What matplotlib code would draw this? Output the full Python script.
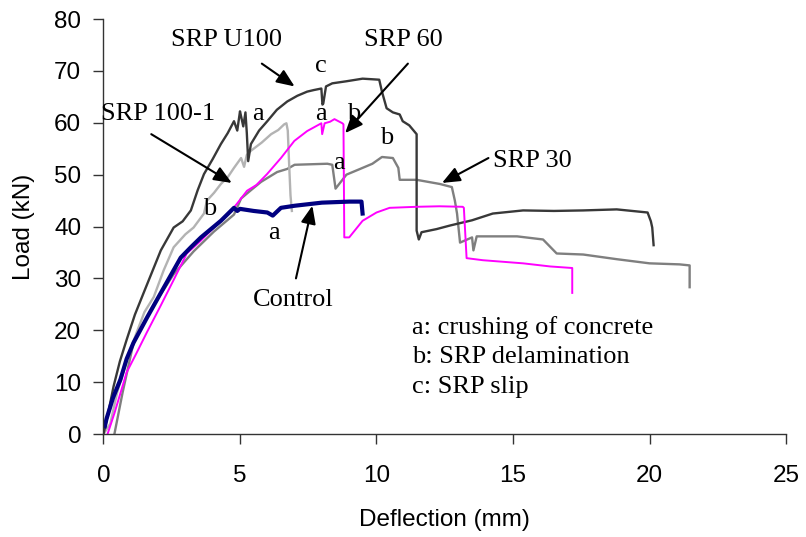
import matplotlib
matplotlib.use("Agg")
import matplotlib.pyplot as plt

# load-deflection curves (deflection mm, load kN)
u100_x = [0.0, 0.15, 0.37, 0.6, 0.85, 1.15, 1.47, 1.8, 2.1, 2.57, 2.9, 3.2, 3.45, 3.68,
          4.0, 4.3, 4.55, 4.78, 4.9, 5.0, 5.05, 5.12, 5.2, 5.25, 5.3, 5.4, 5.7, 6.0, 6.35,
          6.73, 7.1, 7.46, 7.7, 7.98, 8.02, 8.05, 8.15, 8.38, 8.9, 9.49, 9.8, 10.1, 10.2,
          10.37, 10.6, 10.85, 10.96, 11.2, 11.47, 11.47, 11.55, 11.65, 12.2, 12.7, 13.5,
          14.26, 15.37, 16.5, 17.57, 18.8, 19.93, 20.05, 20.1, 20.15]
u100_y = [0.0, 3.5, 9.2, 14.0, 18.2, 23.0, 27.2, 31.5, 35.4, 39.8, 41.0, 43.1, 47.0, 50.1,
          53.0, 55.9, 58.0, 60.3, 58.5, 62.2, 61.0, 59.3, 62.0, 58.0, 52.6, 55.9, 58.5, 60.3,
          62.5, 64.1, 65.2, 66.0, 66.3, 66.6, 63.5, 63.7, 67.0, 67.6, 68.0, 68.5, 68.4, 68.3,
          66.0, 62.8, 62.0, 61.6, 60.3, 59.5, 57.8, 39.2, 37.5, 38.9, 39.5, 40.2, 41.2, 42.5,
          43.1, 43.0, 43.1, 43.3, 42.7, 41.0, 39.8, 36.4]

r100_x = [0.0, 0.25, 0.5, 0.9, 1.21, 1.5, 1.84, 2.2, 2.57, 3.0, 3.3, 3.68, 3.79, 4.05,
          4.3, 4.55, 4.78, 5.04, 5.15, 5.25, 5.4, 5.8, 6.14, 6.4, 6.62, 6.7, 6.75, 6.8, 6.85, 6.9]
r100_y = [0.0, 2.0, 8.0, 15.0, 19.5, 23.5, 26.4, 31.5, 36.0, 38.5, 39.8, 42.5, 45.0, 46.5,
          48.2, 49.5, 51.3, 53.2, 51.5, 53.8, 54.6, 56.2, 57.8, 58.6, 59.7, 59.9, 58.5, 52.0,
          46.0, 43.0]

srp60_x = [0.15, 0.4, 0.85, 1.2, 1.58, 2.1, 2.57, 3.05, 3.57, 3.93, 4.3, 4.6, 4.89, 5.26,
           5.6, 5.99, 6.5, 6.99, 7.46, 7.98, 8.01, 8.1, 8.3, 8.46, 8.75, 8.79, 8.82, 9.0,
           9.49, 10.0, 10.48, 11.47, 12.3, 13.16, 13.2, 13.3, 13.9, 15.37, 16.36, 17.17, 17.17]
srp60_y = [0.0, 4.0, 11.9, 15.5, 19.5, 24.8, 29.7, 34.8, 37.3, 39.2, 41.1, 42.5, 44.4, 46.9,
           48.0, 50.1, 53.2, 56.5, 58.4, 59.9, 57.8, 59.9, 60.2, 60.7, 59.9, 59.7, 37.9, 37.9,
           41.1, 42.7, 43.6, 43.8, 43.9, 43.8, 43.6, 33.9, 33.5, 32.9, 32.3, 32.0, 27.2]

srp30_x = [0.4, 0.7, 1.1, 1.8, 2.57, 3.3, 4.04, 4.78, 5.04, 5.4, 5.77, 6.36, 6.73, 7.0,
           7.6, 8.2, 8.38, 8.5, 8.9, 9.4, 9.85, 10.2, 10.6, 10.8, 10.85, 11.47, 12.32, 12.76,
           12.87, 12.95, 13.06, 13.5, 13.55, 13.67, 15.15, 16.1, 16.6, 17.57, 18.8, 20.0,
           21.1, 21.47, 21.47]
srp30_y = [0.0, 8.0, 17.6, 24.5, 30.8, 35.2, 39.0, 42.3, 45.4, 47.0, 48.6, 50.5, 51.1, 51.9,
           52.0, 52.1, 51.9, 47.3, 50.0, 51.1, 52.1, 53.4, 53.2, 51.3, 49.0, 49.0, 48.2, 47.6,
           45.0, 42.5, 36.9, 37.9, 35.4, 38.1, 38.1, 37.5, 34.8, 34.6, 33.7, 32.9, 32.7, 32.5,
           28.3]

ctrl_x = [0.05, 0.11, 0.35, 0.62, 0.85, 1.1, 1.6, 2.1, 2.83, 3.2, 3.57, 4.3, 4.78, 4.9,
          5.0, 5.5, 6.0, 6.2, 6.5, 7.0, 8.0, 9.0, 9.45, 9.49]
ctrl_y = [1.5, 2.9, 7.0, 10.5, 14.5, 17.6, 22.5, 27.2, 34.0, 36.0, 37.9, 41.1, 43.6, 43.0,
          43.4, 43.0, 42.7, 42.1, 43.6, 44.0, 44.6, 44.8, 44.8, 42.5]

xticks = [0, 5, 10, 15, 20, 25]
yticks = [0, 10, 20, 30, 40, 50, 60, 70, 80]

serif = ["Liberation Serif", "DejaVu Serif"]
sans = ["Liberation Sans", "DejaVu Sans"]

fig = plt.figure(figsize=(8.06, 5.37), dpi=100)
ax = fig.add_axes([0.1284, 0.1918, 0.8468, 0.7728])

ax.plot(srp30_x, srp30_y, color="#7f7f7f", lw=1.7)
ax.plot(r100_x, r100_y, color="#b3b3b3", lw=1.7)
ax.plot(u100_x, u100_y, color="#383838", lw=1.7)
ax.plot(srp60_x, srp60_y, color="#ff00ff", lw=1.4)
ax.plot(ctrl_x, ctrl_y, color="#000080", lw=3.0)

ax.set_xlim(0, 25)
ax.set_ylim(0, 80)
ax.set_xticks(xticks)
ax.set_yticks(yticks)
for s in ["top", "right"]:
    ax.spines[s].set_visible(False)
for s in ["left", "bottom"]:
    ax.spines[s].set_linewidth(1.0)
    ax.spines[s].set_color("#333333")
ax.tick_params(direction="out", length=7, width=1.0, color="#333333", labelsize=17.5)
ax.tick_params(axis="x", pad=15)
ax.tick_params(axis="y", pad=9)
for lab in ax.get_xticklabels() + ax.get_yticklabels():
    lab.set_family(sans)

ax.set_xlabel("Deflection (mm)", fontsize=17.5, family=sans, labelpad=16)
ax.set_ylabel("Load (kN)", fontsize=17.5, family=sans, labelpad=14)

arrow = dict(arrowstyle="-|>,head_length=0.6,head_width=0.25", mutation_scale=18,
             color="black", lw=1.5, shrinkA=0, shrinkB=0)
fs = 19

ax.text(4.5, 76.0, "SRP U100", fontsize=fs, family=serif, ha="center", va="center")
ax.annotate("", xy=(7.0, 67.0), xytext=(5.8, 71.4), arrowprops=arrow)
ax.text(11.0, 76.0, "SRP 60", fontsize=fs, family=serif, ha="center", va="center")
ax.annotate("", xy=(8.85, 58.0), xytext=(11.15, 71.4), arrowprops=arrow)
ax.text(2.0, 61.6, "SRP 100-1", fontsize=fs, family=serif, ha="center", va="center")
ax.annotate("", xy=(4.7, 48.4), xytext=(1.75, 57.8), arrowprops=arrow)
ax.text(15.7, 52.6, "SRP 30", fontsize=fs, family=serif, ha="center", va="center")
ax.annotate("", xy=(12.4, 48.4), xytext=(14.1, 53.2), arrowprops=arrow)
ax.text(6.95, 25.8, "Control", fontsize=fs, family=serif, ha="center", va="center")
ax.annotate("", xy=(7.65, 44.0), xytext=(7.05, 30.0), arrowprops=arrow)

marks = [("c", 7.98, 71.0), ("a", 5.65, 61.6), ("a", 7.98, 61.6), ("b", 9.18, 61.6),
         ("b", 10.38, 57.0), ("a", 8.62, 52.2), ("b", 3.87, 43.4), ("a", 6.23, 38.7)]
for t, mx, my in marks:
    ax.text(mx, my, t, fontsize=fs, family=serif, ha="center", va="center")

notes = ["a: crushing of concrete", "b: SRP delamination", "c: SRP slip"]
for i, t in enumerate(notes):
    ax.text(11.3, 20.5 - 5.75 * i, t, fontsize=fs, family=serif, ha="left", va="center")

fig.savefig("out.png", dpi=100)
